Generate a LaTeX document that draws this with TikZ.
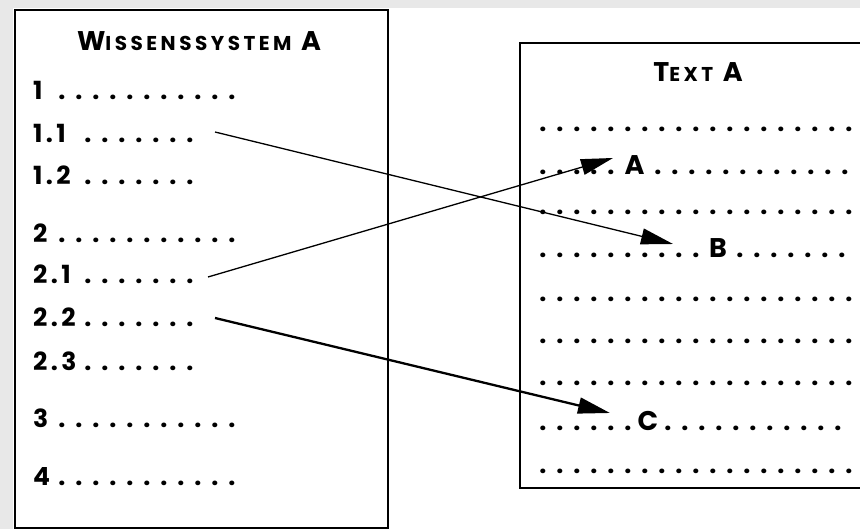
\documentclass[tikz,border=0pt]{standalone}
\usepackage{fontspec}
\setmainfont{Poppins}
\usetikzlibrary{arrows.meta}
\definecolor{bggray}{HTML}{E8E8E8}
\newcommand\dotbox{\hbox to 17pt{\hss.\hss}}
\newcount\dotcnt
\newcommand\dotrun[1]{\dotcnt=0 \loop\ifnum\dotcnt<#1\relax\advance\dotcnt by 1 \dotbox\repeat}
\newcommand\numbox[2]{\hbox to #1{#2\hss}}
\newcommand\letbox[2]{\hbox to #1{\hss{\fontsize{27}{30}\selectfont #2}\hss}}
\def\spaced#1{\spacedaux#1\relax}
\def\spacedaux#1{\ifx#1\relax\else#1\kern3.5pt\expandafter\spacedaux\fi}
\newcommand\capbig[1]{{\fontsize{27}{30}\selectfont #1}}
\newcommand\capsmall[1]{{\fontsize{20}{24}\selectfont\spaced{#1}}}
\newcommand\subnum[2]{#1\kern3.5pt.\kern3.5pt#2}
\begin{document}
\begin{tikzpicture}[x=1pt,y=-1pt,
  txt/.style={inner sep=0pt, outer sep=0pt, anchor=base west, font=\fontsize{25}{28}\selectfont\bfseries},
  ttl/.style={inner sep=0pt, outer sep=0pt, anchor=base, font=\bfseries},
  frame/.style={draw=black, line width=2pt, fill=white, inner sep=0pt, anchor=north west},
  conn/.style={line width=1.3pt, -{Triangle[length=32pt,width=16pt]}},
  connthick/.style={conn, line width=2.3pt}]
\useasboundingbox (0,0) rectangle (860,529);
\clip (0,0) rectangle (860,529);
\fill[bggray] (0,0) rectangle (860,529);
\fill[white] (13,8) rectangle (860,529);
\node[frame, minimum width=373pt, minimum height=518pt] (lbox) at (14,9) {};
\node[frame, minimum width=361pt, minimum height=445pt] (rbox) at (519,42) {};
% titles
\node[ttl] (lttl) at (199,51) {\capbig{W}\capsmall{ISSENSSYSTEM}\kern6pt\capbig{A}};
\node[ttl] (rttl) at (698,82) {\capbig{T}\capsmall{EXT}\kern6pt\capbig{A}};
% left list
\node[txt] (r1)  at (33,100) {\numbox{20.5pt}{1}\dotrun{11}};
\node[txt] (r11) at (33,143) {\numbox{46.5pt}{\subnum{1}{1}}\dotrun{7}};
\node[txt] (r12) at (33,185) {\numbox{46.5pt}{\subnum{1}{2}}\dotrun{7}};
\node[txt] (r2)  at (33,243) {\numbox{20.5pt}{2}\dotrun{11}};
\node[txt] (r21) at (33,284) {\numbox{46.5pt}{\subnum{2}{1}}\dotrun{7}};
\node[txt] (r22) at (33,327) {\numbox{46.5pt}{\subnum{2}{2}}\dotrun{7}};
\node[txt] (r23) at (33,371) {\numbox{46.5pt}{\subnum{2}{3}}\dotrun{7}};
\node[txt] (r3)  at (33,428) {\numbox{20.5pt}{3}\dotrun{11}};
\node[txt] (r4)  at (33,485) {\numbox{20.5pt}{4}\dotrun{11}};
% right text
\node[txt] (t1) at (534.5,131.5) {\dotrun{19}};
\node[txt] (tA) at (534.5,174.5) {\dotrun{5}\letbox{30pt}{A}\dotrun{12}};
\node[txt] (t3) at (534.5,215) {\dotrun{19}};
\node[txt] (tB) at (534.5,258) {\dotrun{10}\letbox{27pt}{B}\dotrun{7}};
\node[txt] (t5) at (534.5,301.5) {\dotrun{19}};
\node[txt] (t6) at (534.5,343.5) {\dotrun{19}};
\node[txt] (t7) at (534.5,385) {\dotrun{19}};
\node[txt] (tC) at (534.5,430) {\dotrun{6}\letbox{23pt}{C}\dotrun{11}};
\node[txt] (t9) at (534.5,473.5) {\dotrun{19}};
% connectors
\coordinate (s1) at (215,132); \coordinate (e1) at (673,244);
\coordinate (s2) at (208,277); \coordinate (e2) at (613,158);
\coordinate (s3) at (215,318); \coordinate (e3) at (610,413);
\draw[conn] (s1) -- (e1);
\draw[conn] (s2) -- (e2);
\draw[connthick] (s3) -- (e3);
\end{tikzpicture}
\end{document}
